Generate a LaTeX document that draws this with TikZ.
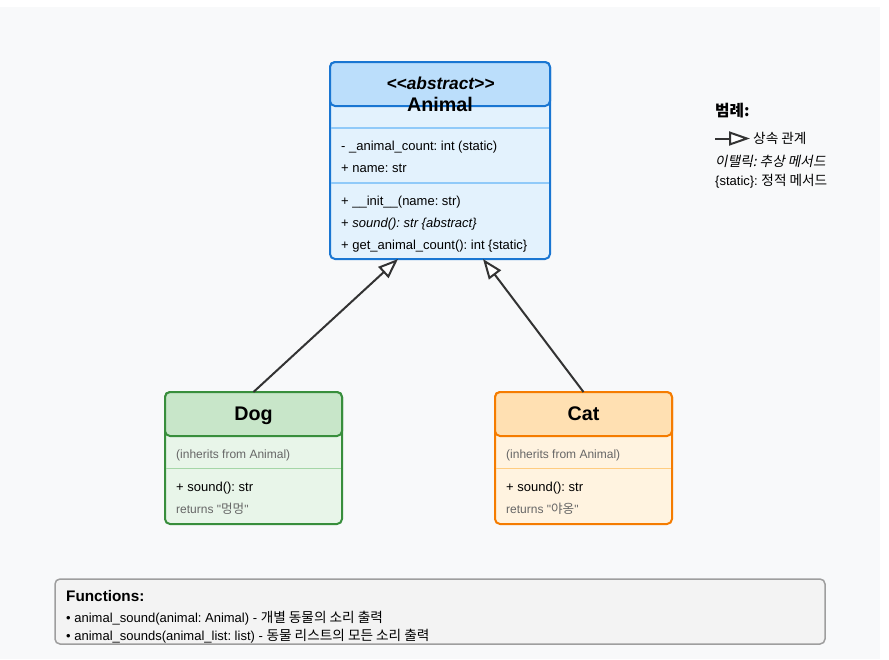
\documentclass[tikz,border=0pt]{standalone}
\usepackage{fontspec}
\setmainfont{Liberation Sans}[Ligatures=TeXOff]
\newfontfamily\kr{Noto Sans CJK KR}[Scale=1.05]
\newfontfamily\kri{Noto Sans CJK KR}[Scale=1.05,FakeSlant=0.2]
\usetikzlibrary{arrows.meta,calc}
\frenchspacing
\definecolor{bg}{HTML}{F8F9FA}
\definecolor{abl}{HTML}{1976D2}
\definecolor{ahead}{HTML}{BBDEFB}
\definecolor{abody}{HTML}{E3F2FD}
\definecolor{asep}{HTML}{90CAF9}
\definecolor{dgl}{HTML}{388E3C}
\definecolor{dhead}{HTML}{C8E6C9}
\definecolor{dbody}{HTML}{E8F5E9}
\definecolor{dsep}{HTML}{A5D6A7}
\definecolor{cor}{HTML}{F57C00}
\definecolor{chead}{HTML}{FFE0B2}
\definecolor{cbody}{HTML}{FFF3E0}
\definecolor{csep}{HTML}{FFCC80}
\definecolor{fbg}{HTML}{F3F3F3}
\definecolor{fbd}{HTML}{9E9E9E}
\definecolor{ink}{HTML}{333333}
\definecolor{gtext}{HTML}{666666}
\tikzset{
  classbox/.style={line width=2pt, rounded corners=5pt, inner sep=0pt, outer sep=0pt, anchor=north west},
  sepline/.style={line width=1.5pt},
  bt/.style={anchor=base west, inner sep=0pt, font=\fontsize{13}{15}\selectfont},
  gt/.style={anchor=base west, inner sep=0pt, text=gtext, font=\fontsize{12}{14}\selectfont},
  title/.style={anchor=base, inner sep=0pt, font=\bfseries\fontsize{19.7}{22}\selectfont},
  inh/.style={draw=ink, line width=2pt, -{Triangle[length=20pt,width=15pt,fill=white]}},
}
\begin{document}
\begin{tikzpicture}[x=1pt,y=-1pt]
\useasboundingbox (0,0) rectangle (889,659);
\fill[white] (0,0) rectangle (889,659);
\fill[bg] (0,7) rectangle (880,659);

% Animal
\node[classbox, draw=abl, fill=abody, minimum width=220pt, minimum height=197pt] (animal) at (330,62) {};
\node[classbox, draw=abl, fill=ahead, minimum width=220pt, minimum height=44pt] (animalhead) at (330,62) {};
\draw[sepline, asep] (331,128) -- (549,128);
\draw[sepline, asep] (331,183) -- (549,183);
\node[anchor=base, inner sep=0pt, font=\bfseries\itshape\fontsize{17.3}{19}\selectfont] (abs) at (440.5,89.5) {<<abstract>>};
\node[title] (animaltitle) at (440,111.5) {Animal};
\node[bt] (a1) at (341,150) {- \_animal\_count: int (static)};
\node[bt] (a2) at (341,172.3) {+ name: str};
\node[bt] (a3) at (341,205) {+ \_\_init\_\_(name: str)};
\node[bt] (a4) at (341,227.3) {+ \textit{sound(): str \{abstract\}}};
\node[bt] (a5) at (341,249.3) {+ get\_animal\_count(): int \{static\}};

% Dog
\node[classbox, draw=dgl, fill=dbody, minimum width=177pt, minimum height=132pt] (dog) at (165,392) {};
\node[classbox, draw=dgl, fill=dhead, minimum width=177pt, minimum height=44pt] (doghead) at (165,392) {};
\draw[sepline, dsep] (166,468.5) -- (341,468.5);
\node[title] (dogtitle) at (253.5,420.5) {Dog};
\node[gt] (d1) at (176,458.3) {(inherits from Animal)};
\node[bt] (d2) at (176,491) {+ sound(): str};
\node[gt] (d3) at (176,513.3) {returns "{\kr 멍멍}"};

% Cat
\node[classbox, draw=cor, fill=cbody, minimum width=177pt, minimum height=132pt] (cat) at (495,392) {};
\node[classbox, draw=cor, fill=chead, minimum width=177pt, minimum height=44pt] (cathead) at (495,392) {};
\draw[sepline, csep] (496,468.5) -- (671,468.5);
\node[title] (cattitle) at (583.5,420.5) {Cat};
\node[gt] (c1) at (506,458.3) {(inherits from Animal)};
\node[bt] (c2) at (506,491) {+ sound(): str};
\node[gt] (c3) at (506,513.3) {returns "{\kr 야옹}"};

% inheritance
\draw[inh] (dog.north) -- ($(animal.south)+(-42,0)$);
\draw[inh] (cat.north) -- ($(animal.south)+(43,0)$);

% legend
\node[anchor=base west, inner sep=0pt, font=\kr\bfseries\fontsize{15}{18}\selectfont] (lgt) at (715,116.7) {범례:};
\coordinate (lgA) at (715,138.5);
\coordinate (lgB) at (750,138.5);
\draw[draw=ink, line width=2pt, -{Triangle[length=21pt,width=14pt,fill=white]}] (lgA) -- (lgB);
\node[bt, font=\kr\fontsize{13}{15}\selectfont] (lg1) at (753,143.3) {상속 관계};
\node[bt, font=\kri\fontsize{13}{15}\selectfont] (lg2) at (715,166.7) {이탤릭: 추상 메서드};
\node[bt] (lg3) at (715,185.7) {\{static\}: {\kr 정적 메서드}};

% functions
\node[draw=fbd, fill=fbg, line width=1.5pt, rounded corners=5pt, inner sep=0pt, outer sep=0pt, anchor=north west, minimum width=770pt, minimum height=65pt] (funcs) at (55,579) {};
\node[anchor=base west, inner sep=0pt, font=\bfseries\fontsize{15.3}{17}\selectfont] (ft) at (66,601.7) {Functions:};
\node[bt] (f1) at (66,622.7) {• animal\_sound(animal: Animal) - {\kr 개별 동물의 소리 출력}};
\node[bt] (f2) at (66,640) {• animal\_sounds(animal\_list: list) - {\kr 동물 리스트의 모든 소리 출력}};
\end{tikzpicture}
\end{document}
